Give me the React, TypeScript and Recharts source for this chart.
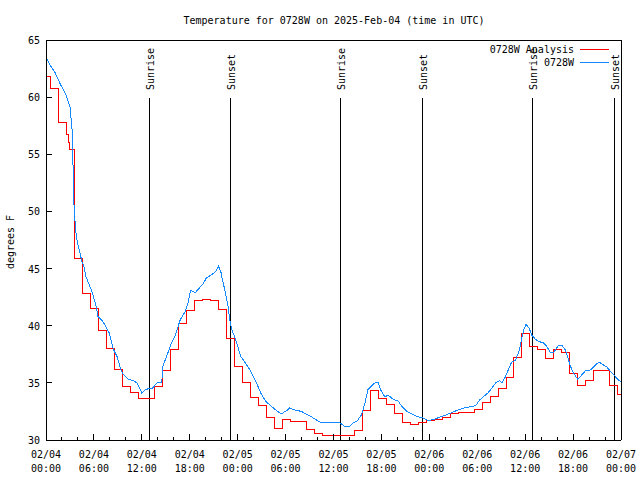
import React from 'react'
import { LineChart, Line, XAxis, YAxis, ReferenceLine } from 'recharts'

// observed temperature (hours since 02/04 00:00 UTC, degrees F)
const obsHours = [
  0, 0.5, 1.1, 1.75, 2.5, 2.75, 3.0, 3.1, 3.25, 3.4, 3.5, 3.7, 3.9, 4.25, 4.5, 4.75, 5.0, 5.4, 5.75,
  6.25, 6.5, 7.1, 7.9, 8.4, 8.9, 9.4, 9.6, 10.3, 10.9, 11.4, 12.0, 12.4, 12.9, 13.3, 13.9, 14.5,
  14.6, 15.1, 15.6, 16.1, 16.8, 17.4, 17.8, 18.1, 18.7, 19.2, 19.7, 20.1, 20.6, 21.2, 21.6, 21.9,
  22.1, 22.4, 22.8, 23.0, 23.3, 23.7, 24.0, 24.4, 24.9, 25.3, 25.8, 26.3, 26.9, 27.5, 28.3, 29.0,
  29.5, 30.2, 30.5, 31.3, 32.0, 32.5, 33.3, 34.0, 34.5, 35.5, 36.3, 36.8, 37.4, 38.0, 38.5, 39.0,
  39.5, 39.8, 40.0, 40.3, 40.7, 41.2, 41.6, 41.9, 42.4, 42.9, 43.4, 44.1, 44.6, 45.2, 45.8, 46.3,
  46.8, 47.3, 47.8, 48.6, 49.3, 50.1, 50.8, 51.5, 52.3, 53.1, 53.8, 54.3, 54.8, 55.3, 55.8, 56.3,
  56.8, 57.1, 57.5, 57.8, 58.3, 58.8, 59.3, 59.6, 59.8, 60.1, 60.5, 60.8, 61.3, 61.8, 62.3, 62.7,
  63.1, 63.5, 63.8, 64.2, 64.6, 65.0, 65.3, 65.7, 66.1, 66.6, 67.1, 67.6, 68.1, 68.6, 69.0, 69.3,
  69.7, 70.2, 70.7, 71.1, 71.6, 72.0,
]
const obsTemps = [
  63.5, 62.8, 62.2, 61.2, 60.2, 59.7, 59.2, 58.4, 57.4, 53.6, 50.7, 48.4, 47.4, 46.4, 45.6, 45.2, 44.3, 43.6, 43.0,
  41.8, 40.8, 40.4, 39.4, 38.0, 37.3, 36.1, 35.8, 35.3, 35.2, 35.0, 34.1, 34.4, 34.5, 34.5, 35.0, 35.0,
  36.4, 37.3, 38.3, 39.0, 40.5, 41.2, 42.0, 43.1, 42.9, 43.3, 43.7, 44.2, 44.4, 44.7, 45.2, 44.7,
  44.0, 43.1, 41.7, 40.5, 39.6, 38.9, 38.2, 37.3, 36.8, 36.4, 35.8, 35.1, 34.1, 33.4, 32.9, 32.5,
  32.3, 32.6, 32.8, 32.6, 32.5, 32.3, 32.0, 31.7, 31.5, 31.5, 31.5, 31.5, 31.2, 31.2, 31.5, 31.7,
  32.2, 32.9, 33.4, 34.4, 34.7, 35.0, 35.0, 34.4, 33.8, 33.9, 33.6, 33.4, 32.9, 32.5, 32.3, 32.1,
  32.0, 31.9, 31.7, 31.8, 32.0, 32.2, 32.4, 32.6, 32.8, 32.9, 33.0, 33.5, 33.8, 34.1, 34.5, 35.0,
  35.2, 35.0, 35.5, 36.0, 36.8, 37.0, 37.9, 39.0, 39.6, 40.1, 39.8, 39.2, 38.8, 38.6, 38.5, 38.2,
  37.7, 37.6, 37.9, 38.3, 38.3, 37.9, 37.3, 36.4, 35.8, 35.3, 35.7, 36.1, 36.1, 36.4, 36.7, 36.8,
  36.6, 36.4, 36.0, 35.7, 35.3, 35.1,
]

// hourly analysis, drawn as steps
const anaHours = [
  0, 0.6, 1.6, 2.6, 2.8, 3.0, 3.6, 4.6, 5.6, 6.6, 7.6, 8.6, 9.6, 10.6, 11.6, 12.6, 13.6, 14.6, 15.6,
  16.6, 17.6, 18.6, 19.6, 20.6, 21.6, 22.6, 23.6, 24.6, 25.6, 26.6, 27.6, 28.6, 29.6, 30.6, 31.6,
  32.6, 33.6, 34.6, 35.6, 36.6, 37.6, 38.6, 39.6, 40.6, 41.6, 42.6, 43.6, 44.6, 45.6, 46.6, 47.6,
  48.6, 49.6, 50.6, 51.6, 52.6, 53.6, 54.6, 55.6, 56.6, 57.6, 58.6, 59.5, 60.6, 61.6, 62.6, 63.6,
  64.6, 65.6, 66.6, 67.6, 68.6, 69.6, 70.6, 71.6, 72,
]
const anaTemps = [
  61.8, 60.8, 57.8, 56.7, 56.0, 55.4, 45.9, 42.8, 41.5, 39.6, 38.0, 36.2, 34.7, 34.2, 33.6, 33.6, 34.7, 36.1, 37.9,
  40.2, 41.3, 42.2, 42.3, 42.2, 41.4, 38.9, 36.4, 35.0, 33.7, 33.0, 32.0, 31.0, 31.8, 31.6, 31.6,
  30.9, 30.6, 30.4, 30.4, 30.4, 30.4, 30.8, 32.6, 34.3, 33.6, 33.1, 32.3, 31.5, 31.4, 31.5, 31.7,
  31.8, 32.0, 32.3, 32.4, 32.4, 32.7, 33.3, 33.8, 34.5, 35.5, 37.2, 39.3, 38.2, 37.9, 37.1, 37.9,
  37.7, 35.8, 34.8, 35.2, 36.1, 36.1, 34.8, 34.0, 34.0,
]

const sunEvents = ['Sunrise', 'Sunset', 'Sunrise', 'Sunset', 'Sunrise', 'Sunset']
const sunHours = [13.02, 23.12, 36.92, 47.15, 60.95, 71.22]

const xTicks = [0, 2, 4, 6, 8, 10, 12, 14, 16, 18, 20, 22, 24, 26, 28, 30, 32, 34, 36, 38, 40, 42, 44, 46, 48, 50, 52, 54, 56, 58, 60, 62, 64, 66, 68, 70, 72]
const majorTicks = [0, 6, 12, 18, 24, 30, 36, 42, 48, 54, 60, 66, 72]
const dateLabels = ['02/04', '02/04', '02/04', '02/04', '02/05', '02/05', '02/05', '02/05', '02/06', '02/06', '02/06', '02/06', '02/07']
const timeLabels = ['00:00', '06:00', '12:00', '18:00', '00:00', '06:00', '12:00', '18:00', '00:00', '06:00', '12:00', '18:00', '00:00']
const yTicks = [30, 35, 40, 45, 50, 55, 60, 65]

const obsData = obsHours.map((t, i) => ({ t, v: obsTemps[i] }))
const anaData = anaHours.map((t, i) => ({ t, v: anaTemps[i] }))

const FONT = '"DejaVu Sans Mono", monospace'
const RED = '#ff0000'
const BLUE = '#1589ff'

const txt = { fontFamily: FONT, fontSize: 10, fill: '#000' }

function BottomTick(props: any) {
  const { x, y, payload } = props
  const idx = majorTicks.indexOf(payload.value)
  const major = idx >= 0
  return (
    <g>
      <line x1={x} x2={x} y1={y} y2={y - (major ? 6 : 3)} stroke="#000" shapeRendering="crispEdges" />
      {major && (
        <>
          <text x={x} y={y + 18} textAnchor="middle" style={txt}>{dateLabels[idx]}</text>
          <text x={x} y={y + 32} textAnchor="middle" style={txt}>{timeLabels[idx]}</text>
        </>
      )}
    </g>
  )
}

function TopTick(props: any) {
  const { x, y, payload } = props
  const major = majorTicks.indexOf(payload.value) >= 0
  return <line x1={x} x2={x} y1={y} y2={y + (major ? 6 : 3)} stroke="#000" shapeRendering="crispEdges" />
}

function LeftTick(props: any) {
  const { x, y, payload } = props
  return (
    <g>
      <line x1={x} x2={x + 6} y1={y} y2={y} stroke="#000" shapeRendering="crispEdges" />
      <text x={x - 6} y={y + 4} textAnchor="end" style={txt}>{payload.value}</text>
    </g>
  )
}

function RightTick(props: any) {
  const { x, y } = props
  return <line x1={x} x2={x - 6} y1={y} y2={y} stroke="#000" shapeRendering="crispEdges" />
}

function sunShape(label: string) {
  return (props: any) => {
    const x = props.x1
    const top = Math.min(props.y1, props.y2)
    const bottom = Math.max(props.y1, props.y2)
    return (
      <g>
        <line x1={x} x2={x} y1={top + 58} y2={bottom} stroke="#000" shapeRendering="crispEdges" />
        <text transform={`translate(${x + 4},${top + 50}) rotate(-90)`} style={txt}>{label}</text>
      </g>
    )
  }
}

export default function App() {
  return (
    <div style={{ position: 'absolute', left: 0, top: 0, width: 640, height: 480, background: '#fff' }}>
      <LineChart width={640} height={480} margin={{ top: 0, right: 0, bottom: 0, left: 0 }}>
        <XAxis
          dataKey="t" type="number" domain={[0, 72]} ticks={xTicks} interval={0}
          height={40} tickSize={0} tickMargin={0} tick={BottomTick}
          axisLine={{ stroke: '#000', shapeRendering: 'crispEdges' }} allowDuplicatedCategory={false}
        />
        <XAxis
          xAxisId="top" orientation="top" dataKey="t" type="number" domain={[0, 72]} ticks={xTicks} interval={0}
          height={40} tickSize={0} tickMargin={0} tick={TopTick}
          axisLine={{ stroke: '#000', shapeRendering: 'crispEdges' }}
        />
        <YAxis
          type="number" domain={[30, 65]} ticks={yTicks} interval={0} width={46}
          tickSize={0} tickMargin={0} tick={LeftTick}
          axisLine={{ stroke: '#000', shapeRendering: 'crispEdges' }}
        />
        <YAxis
          yAxisId="right" orientation="right" type="number" domain={[30, 65]} ticks={yTicks} interval={0} width={19}
          tickSize={0} tickMargin={0} tick={RightTick}
          axisLine={{ stroke: '#000', shapeRendering: 'crispEdges' }}
        />
        {sunHours.map((h, i) => (
          <ReferenceLine key={i} x={h} stroke="#000" shape={sunShape(sunEvents[i])} />
        ))}
        <Line
          data={anaData} dataKey="v" type="stepAfter" stroke={RED} strokeWidth={1}
          dot={false} isAnimationActive={false} shapeRendering="crispEdges"
        />
        <Line
          data={obsData} dataKey="v" type="linear" stroke={BLUE} strokeWidth={1}
          dot={false} isAnimationActive={false} shapeRendering="crispEdges"
        />
      </LineChart>
      <svg width={640} height={480} style={{ position: 'absolute', left: 0, top: 0, pointerEvents: 'none' }}>
        <text x={334} y={24} textAnchor="middle" style={txt}>Temperature for 0728W on 2025-Feb-04 (time in UTC)</text>
        <text transform="translate(14,242) rotate(-90)" textAnchor="middle" style={txt}>degrees F</text>
        <text x={574} y={53} textAnchor="end" style={txt}>0728W Analysis</text>
        <line x1={580} x2={609} y1={49.5} y2={49.5} stroke={RED} />
        <text x={574} y={66} textAnchor="end" style={txt}>0728W</text>
        <line x1={580} x2={609} y1={62.5} y2={62.5} stroke={BLUE} />
      </svg>
    </div>
  )
}
